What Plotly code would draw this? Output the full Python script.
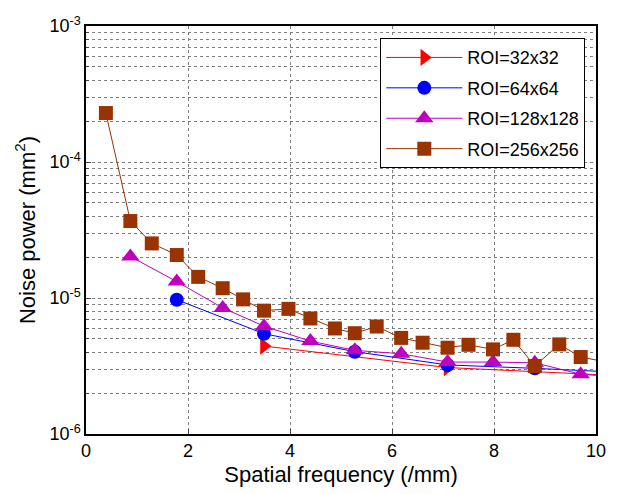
import plotly.graph_objects as go

# ROI=32x32
x32 = [3.49, 7.09, 10.6]
y32 = [4.43e-6, 3.08e-6, 2.67e-6]
# ROI=64x64
x64 = [1.78, 3.49, 5.27, 7.09, 8.80, 10.56]
y64 = [9.72e-6, 5.46e-6, 4.03e-6, 3.22e-6, 3.04e-6, 2.83e-6]
# ROI=128x128
x128 = [0.87, 1.78, 2.68, 3.49, 4.40, 5.27, 6.18, 7.09, 7.98, 8.80, 9.70, 10.6]
y128 = [2.02e-5, 1.32e-5, 8.45e-6, 6.21e-6, 4.82e-6, 4.12e-6, 3.89e-6, 3.38e-6, 3.38e-6, 3.34e-6, 2.75e-6, 2.60e-6]
# ROI=256x256
x256 = [0.39, 0.87, 1.29, 1.78, 2.20, 2.68, 3.08, 3.49, 3.97, 4.40, 4.88, 5.27, 5.70,
        6.18, 6.60, 7.09, 7.50, 7.98, 8.38, 8.80, 9.28, 9.70, 10.14]
y256 = [2.29e-4, 3.68e-5, 2.52e-5, 2.07e-5, 1.43e-5, 1.18e-5, 9.77e-6, 8.07e-6, 8.32e-6,
        7.07e-6, 5.97e-6, 5.51e-6, 6.17e-6, 5.09e-6, 4.69e-6, 4.31e-6, 4.53e-6, 4.19e-6,
        4.93e-6, 3.16e-6, 4.56e-6, 3.68e-6, 3.42e-6]

xticks = [0, 2, 4, 6, 8, 10]
yticks = [1e-6, 1e-5, 1e-4, 1e-3]
ytext = ["10<sup>-6</sup>", "10<sup>-5</sup>", "10<sup>-4</sup>", "10<sup>-3</sup>"]
yminor = [m * d for d in [1e-6, 1e-5, 1e-4] for m in range(2, 10)]

series = [
    ("ROI=32x32", x32, y32, "#ff0000", "triangle-right", 15),
    ("ROI=64x64", x64, y64, "#0000ff", "circle", 14),
    ("ROI=128x128", x128, y128, "#bf00bf", "triangle-up", 16),
    ("ROI=256x256", x256, y256, "#993300", "square", 14),
]

fig = go.Figure()
for name, xs, ys, col, sym, sz in series:
    fig.add_trace(go.Scatter(
        x=xs, y=ys, name=name, mode="lines+markers", legendgroup=name,
        line=dict(color=col, width=1),
        marker=dict(color=col, symbol=sym, size=sz, line=dict(width=0)),
        cliponaxis=True,
    ))

fam = "Arial, Liberation Sans, sans-serif"
font = dict(family=fam, size=18, color="black")

fig.update_layout(
    width=617, height=494,
    margin=dict(l=86, r=11, t=26, b=60),
    paper_bgcolor="white", plot_bgcolor="white",
    font=font,
    showlegend=True,
    legend=dict(
        x=0.979, y=0.97, xanchor="right", yanchor="top",
        bgcolor="white", bordercolor="black", borderwidth=1,
        font=dict(family=fam, size=18, color="black"),
        tracegroupgap=4, itemwidth=76,
    ),
    xaxis=dict(
        range=[0, 10], tickvals=xticks, ticks="inside", ticklen=5,
        showline=True, linecolor="black", linewidth=1.5, mirror=True,
        showgrid=True, gridcolor="#7f7f7f", griddash="dot", gridwidth=1,
        zeroline=False,
        title=dict(text="Spatial frequency (/mm)", standoff=6),
        tickfont=dict(size=18),
    ),
    yaxis=dict(
        type="log", range=[-6, -3], tickvals=yticks, ticktext=ytext,
        ticks="inside", ticklen=5,
        showline=True, linecolor="black", linewidth=1.5, mirror=True,
        showgrid=True, gridcolor="#7f7f7f", griddash="dot", gridwidth=1,
        minor=dict(tickvals=yminor, ticks="inside", ticklen=3, showgrid=True,
                   gridcolor="#7f7f7f", griddash="dot", gridwidth=1),
        zeroline=False,
        title=dict(text="Noise power (mm<sup>2</sup>)", standoff=8),
        tickfont=dict(size=18),
    ),
)

fig.write_html("out.html")
